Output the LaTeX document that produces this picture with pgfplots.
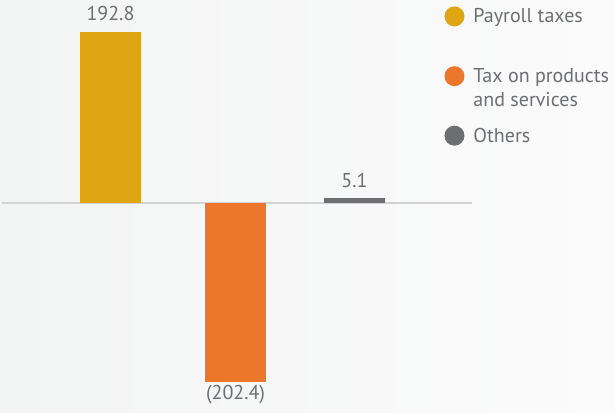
\documentclass[border=0pt]{standalone}
\usepackage{fontspec}
\setmainfont{PT Sans}
\usepackage{pgfplots}
\pgfplotsset{compat=1.18}
\definecolor{payroll}{HTML}{DFA513}
\definecolor{products}{HTML}{EC7629}
\definecolor{others}{HTML}{6D6E71}
\definecolor{txt}{HTML}{6D6E71}
\definecolor{bgl}{HTML}{F3F4F4}
\definecolor{bgr}{HTML}{FBFBFB}
\definecolor{zeroline}{HTML}{D3D3D3}

\begin{document}
\begin{tikzpicture}
\shade[left color=bgl, right color=bgr] (0,0) rectangle (615pt,412pt);
\useasboundingbox (0,0) rectangle (615pt,412pt);
\begin{axis}[
  at={(2pt,0pt)}, anchor=south west,
  scale only axis,
  width=470pt, height=412pt,
  xmin=-0.889, xmax=2.963,
  ymin=-236.2, ymax=229.4,
  hide axis,
  ybar, bar width=61pt, bar shift=0pt,
  nodes near coords,
  point meta=explicit symbolic,
  every node near coord/.append style={font=\fontsize{20}{24}\selectfont, text=txt, inner sep=11pt},
  % invisible path gives every legend row room for two text lines
  legend image code/.code={\path[draw=none, fill=none] (0pt,-31pt) -- (0pt,0pt); \fill (10pt,6.5pt) circle (10pt);},
  legend style={at={(0.941,0.985)}, anchor=north west, draw=none, fill=none,
    font=\fontsize{20}{24}\selectfont, text=txt,
    row sep=12pt, column sep=0pt, inner sep=0pt,
    nodes={inner sep=0pt}, cells={anchor=base west}},
]
\draw[zeroline, line width=1.2pt] (axis cs:-0.889,0) -- (axis cs:2.963,0);
\addplot[fill=payroll, draw=none] table[meta=label] {
x y label
0 192.8 192.8
};
\addlegendentry{\hspace{9pt}Payroll taxes}
\addplot[fill=products, draw=none, every node near coord/.append style={anchor=north, inner sep=3pt}] table[meta=label] {
x y label
1.025 -202.4 (202.4)
};
\addlegendentry{\hspace{9pt}\begin{tabular}[t]{@{}l@{}}Tax on products\\and services\end{tabular}}
\addplot[fill=others, draw=none] table[meta=label] {
x y label
2 5.1 5.1
};
\addlegendentry{\hspace{9pt}Others}
\end{axis}
\end{tikzpicture}
\end{document}
